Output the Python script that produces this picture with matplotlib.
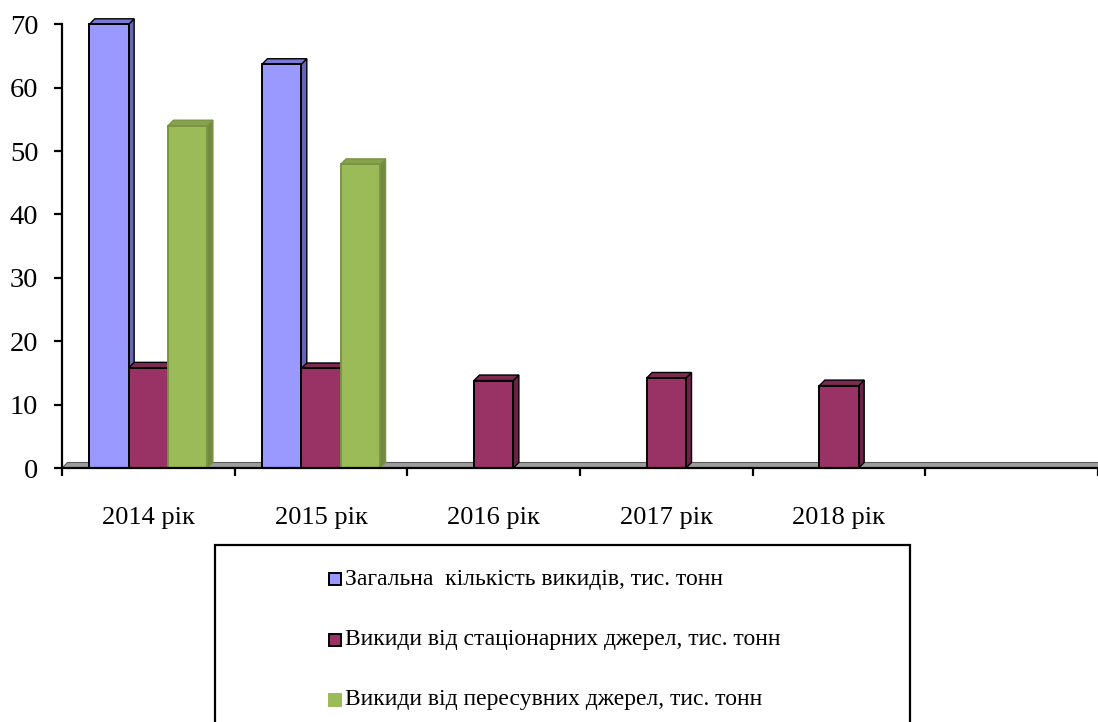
import numpy as np
import matplotlib
matplotlib.use("Agg")
import matplotlib.pyplot as plt
from matplotlib.patches import Polygon, Rectangle

# ---- data --------------------------------------------------------------------
years = ["2014 рік", "2015 рік", "2016 рік", "2017 рік", "2018 рік", ""]
total = [70.0, 63.7, np.nan, np.nan, np.nan, np.nan]
stationary = [15.8, 15.7, 13.8, 14.2, 13.0, np.nan]
mobile = [54.0, 47.9, np.nan, np.nan, np.nan, np.nan]

series_names = [
    "Загальна  кількість викидів, тис. тонн",
    "Викиди від стаціонарних джерел, тис. тонн",
    "Викиди від пересувних джерел, тис. тонн",
]
# (front, top, side, edge)
palette = [
    ("#9999FF", "#7a7ad6", "#6666B3", "black"),
    ("#993366", "#7d2a53", "#6b2246", "black"),
    ("#9BBB59", "#86a34b", "#728a40", "#7a9446"),
]

plt.rcParams["font.family"] = ["Liberation Serif", "DejaVu Serif"]

W, H, DPI = 1098, 722, 100
fig = plt.figure(figsize=(W / DPI, H / DPI), dpi=DPI)

x0_px, x1_px, y0_px, y1_px = 62, 1098, 468, 24.3
ax = fig.add_axes([x0_px / W, (H - y0_px) / H, (x1_px - x0_px) / W, (y0_px - y1_px) / H])
n = len(years)
ax.set_xlim(-0.5, n - 0.5)
ax.set_ylim(0, 70)

# 3-D depth, in data units, from a pixel offset
depth_px = 5.5
dx = depth_px * n / (x1_px - x0_px)
dy = depth_px * 70 / (y0_px - y1_px)

# floor slab
floor = Polygon([(-0.5, 0), (n - 0.5, 0), (n - 0.5 + dx, dy), (-0.5 + dx, dy)],
                closed=True, facecolor="#9c9c9c", edgecolor="#5a5a5a", lw=0.8,
                zorder=1, clip_on=False)
ax.add_patch(floor)

width = 0.228
offsets = [-width, 0.0, width]
xs = np.arange(n)

for vals, off, (front, top, side, edge) in zip([total, stationary, mobile], offsets, palette):
    for xi, v in zip(xs, vals):
        if np.isnan(v):
            continue
        l = xi + off - width / 2
        r = xi + off + width / 2
        ax.add_patch(Polygon([(r, 0), (r + dx, dy), (r + dx, v + dy), (r, v)],
                             facecolor=side, edgecolor=edge, lw=1.0, zorder=2,
                             clip_on=False))
        ax.add_patch(Polygon([(l, v), (r, v), (r + dx, v + dy), (l + dx, v + dy)],
                             facecolor=top, edgecolor=edge, lw=1.0, zorder=2,
                             clip_on=False))
        ax.bar(xi + off, v, width=width, color=front, edgecolor=edge,
               linewidth=1.4, zorder=2, clip_on=False)

# axes styling
for s in ("top", "right"):
    ax.spines[s].set_visible(False)
for s in ("left", "bottom"):
    ax.spines[s].set_linewidth(1.6)
    ax.spines[s].set_zorder(3)

ax.set_yticks(range(0, 71, 10))
ax.tick_params(axis="y", direction="out", length=6, width=1.6, labelsize=20.5, pad=11)
ax.set_xticks(np.arange(-0.5, n, 1.0))
ax.set_xticklabels([])
ax.tick_params(axis="x", which="major", direction="out", length=6, width=1.6)
ax.set_xticks(xs, minor=True)
ax.set_xticklabels(years, minor=True)
ax.tick_params(axis="x", which="minor", length=0, labelsize=19, pad=28)

# legend box, running off the bottom of the figure
bx0, bx1, by0 = 215, 910, 545
fig.add_artist(Rectangle((bx0 / W, -0.05), (bx1 - bx0) / W, (H - by0) / H + 0.05,
                         transform=fig.transFigure, facecolor="white",
                         edgecolor="black", lw=1.6, clip_on=False))
rows_px = [579, 640, 700]
for name, (front, top, side, edge), yp in zip(series_names, palette, rows_px):
    sq = 12
    fig.add_artist(Rectangle((329 / W, (H - yp - sq / 2) / H), sq / W, sq / H,
                             transform=fig.transFigure, facecolor=front,
                             edgecolor="black" if edge == "black" else front,
                             lw=1.4))
    fig.text(345 / W, (H - yp) / H, name, fontsize=17, va="center", ha="left")

fig.savefig("out.png", dpi=DPI)
